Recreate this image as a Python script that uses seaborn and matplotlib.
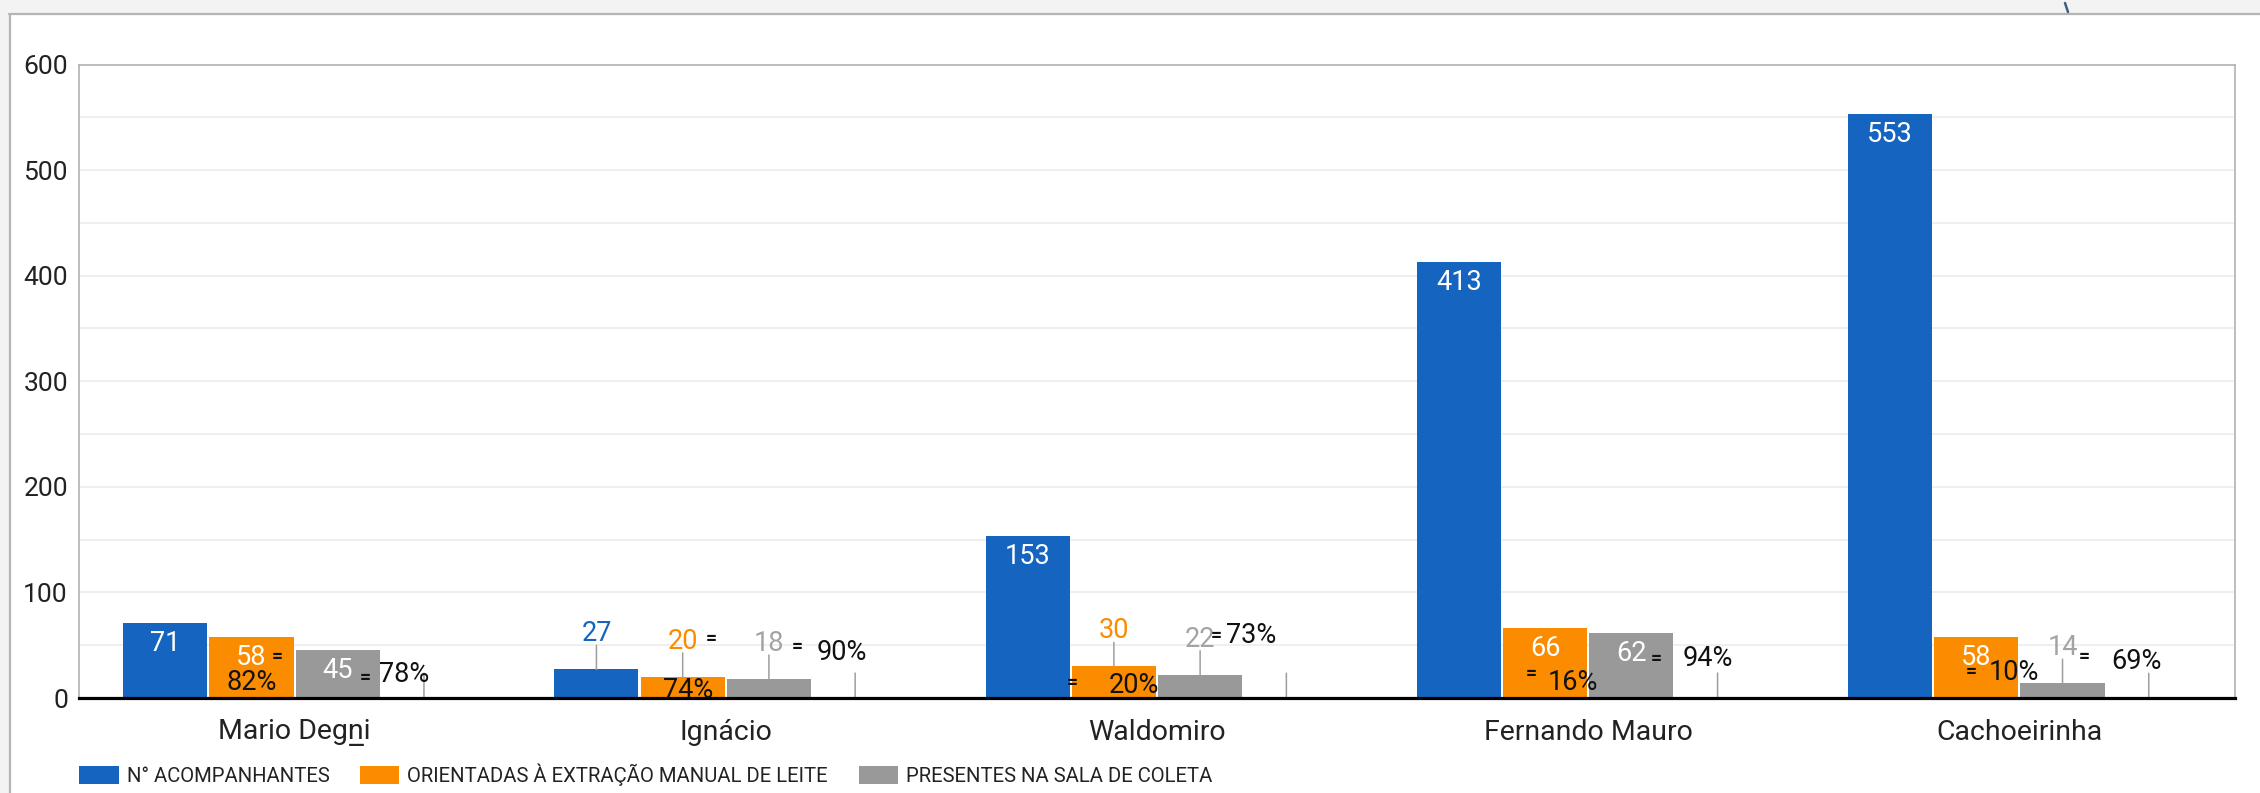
import matplotlib
matplotlib.use("Agg")
import matplotlib.pyplot as plt
import seaborn as sns
import pandas as pd
import numpy as np
from matplotlib.patches import Rectangle, Patch
from matplotlib.lines import Line2D

# ---------------- data ----------------
categories = ["Mario Degn\u0332i", "Ignácio", "Waldomiro", "Fernando Mauro", "Cachoeirinha"]
series_names = ["N° ACOMPANHANTES", "ORIENTADAS À EXTRAÇÃO MANUAL DE LEITE",
                "PRESENTES NA SALA DE COLETA", "PERCENTUAL"]
acompanhantes = [71, 27, 153, 413, 553]
orientadas = [58, 20, 30, 66, 58]
presentes = [45, 18, 22, 62, 14]
percentual = [0.78, 0.90, 0.73, 0.94, 0.69]          # hidden 4th series
pct_orientadas = ["82%", "74%", "20%", "16%", "10%"]
pct_presentes = ["78%", "90%", "73%", "94%", "69%"]
yticks = [0, 100, 200, 300, 400, 500, 600]

# ---------------- layout / style ----------------
W, H, DPI = 2260, 793, 100
colors = ["#1565c0", "#fb8c00", "#999999", "#ffffff"]
label_colors = ["#1565c0", "#fb8c00", "#a3a3a3"]
# overlay text offsets in pixels relative to (bar centre, baseline)
eq_or_off = [(26, 42), (29, 60), (-42, 16), (-14, 25), (-5, 27)]
pct_or_off = [(0, 18), (5, 10), (20, 15), (28, 18), (38, 28)]
eq_gr_off = [(28, 21), (28, 52), (16, 63), (25, 40), (22, 42)]
pct_gr_off = [(66, 26), (73, 48), (51, 65), (76, 42), (74, 39)]

sns.set_theme(style="white")
plt.rcParams["font.family"] = ["Roboto", "DejaVu Sans"]

df = pd.DataFrame({
    "categoria": categories * 4,
    "serie": sum([[s] * len(categories) for s in series_names], []),
    "valor": acompanhantes + orientadas + presentes + percentual,
})

fig = plt.figure(figsize=(W / DPI, H / DPI), dpi=DPI)
fig.patch.set_facecolor("white")
L, R, T, B = 79, 2235, 64.5, 698
ax = fig.add_axes([L / W, 1 - B / H, (R - L) / W, (B - T) / H])

sns.barplot(data=df, x="categoria", y="valor", hue="serie", order=categories,
            hue_order=series_names, palette=colors, saturation=1, width=0.8,
            gap=0.025, linewidth=0, ax=ax)
if ax.get_legend() is not None:
    ax.get_legend().remove()
for p in ax.containers[3]:
    p.set_alpha(0)

ax.set_ylim(0, 600)
ax.set_xlim(-0.5, len(categories) - 0.5)
ax.set_yticks(yticks)
ax.set_yticklabels([str(t) for t in yticks])
ax.set_yticks(np.arange(50, 600, 100), minor=True)
ax.yaxis.grid(True, which="both", color="#ebebeb", lw=1.1)
ax.xaxis.grid(False)
ax.set_axisbelow(True)
ax.set_xlabel("")
ax.set_ylabel("")
ax.tick_params(axis="y", which="both", length=0, pad=8, labelsize=19, labelcolor="#222222")
ax.tick_params(axis="x", length=0, pad=15, labelsize=20.5, labelcolor="#222222")
for s in ["left", "top", "right"]:
    ax.spines[s].set_color("#b7b7b7")
    ax.spines[s].set_linewidth(1.3)
ax.spines["bottom"].set_color("black")
ax.spines["bottom"].set_linewidth(2.3)
ax.spines["bottom"].set_zorder(5)

stem_kw = dict(arrowstyle="-", color="#9e9e9e", lw=1.1, shrinkA=0, shrinkB=0)

# value labels
for i, vals in enumerate([acompanhantes, orientadas, presentes]):
    for bar, v in zip(ax.containers[i], vals):
        x = bar.get_x() + bar.get_width() / 2
        h = bar.get_height()
        if h >= 40:
            ax.annotate(str(v), (x, h), xytext=(0, -28), textcoords="offset pixels",
                        ha="center", va="baseline", color="white", fontsize=19.5)
        else:
            ax.annotate("", (x, h), xytext=(0, 24), textcoords="offset pixels",
                        arrowprops=stem_kw)
            ax.annotate(str(v), (x, h), xytext=(0, 28), textcoords="offset pixels",
                        ha="center", va="baseline", color=label_colors[i], fontsize=19.5)

# hidden series: only the stems remain visible
for bar in ax.containers[3]:
    x = bar.get_x() + bar.get_width() / 2
    ax.annotate("", (x, bar.get_height()), xytext=(0, 24), textcoords="offset pixels",
                arrowprops=stem_kw)

# overlaid text boxes ("=" and percentages)
def overlay(container, texts, eq_off, pct_off):
    for bar, t, (ex, ey), (px, py) in zip(container, texts, eq_off, pct_off):
        x = bar.get_x() + bar.get_width() / 2
        ax.annotate("=", (x, 0), xytext=(ex, ey - 6), textcoords="offset pixels",
                    ha="center", va="baseline", color="#111111", fontsize=14,
                    fontweight="bold", zorder=6)
        ax.annotate(t, (x, 0), xytext=(px, py - 10), textcoords="offset pixels",
                    ha="center", va="baseline", color="#111111", fontsize=19.5, zorder=6)

overlay(ax.containers[1], pct_orientadas, eq_or_off, pct_or_off)
overlay(ax.containers[2], pct_presentes, eq_gr_off, pct_gr_off)

# legend
handles = [Patch(facecolor=c, edgecolor="none") for c in colors[:3]]
fig.legend(handles, series_names[:3], loc="center left",
           bbox_to_anchor=(79 / W, 1 - 775 / H), ncol=3, frameon=False, fontsize=14.6,
           handlelength=1.95, handleheight=1.0, handletextpad=0.4, columnspacing=1.5,
           borderpad=0, borderaxespad=0, labelcolor="#222222")

# window chrome around the chart
fig.add_artist(Rectangle((0, 1 - 13 / H), 1, 13 / H, transform=fig.transFigure,
                         facecolor="#f3f3f3", edgecolor="none", zorder=0))
fig.add_artist(Rectangle((0, 0), 9 / W, 1, transform=fig.transFigure,
                         facecolor="#f3f3f3", edgecolor="none", zorder=0))
fig.add_artist(Line2D([9 / W, 1], [1 - 14 / H] * 2, transform=fig.transFigure,
                      color="#b5b5b5", lw=1.6))
fig.add_artist(Line2D([9.8 / W] * 2, [0, 1 - 14 / H], transform=fig.transFigure,
                      color="#b5b5b5", lw=1.6))
fig.add_artist(Line2D([2065 / W, 2068 / W], [1 - 3 / H, 1 - 12 / H],
                      transform=fig.transFigure, color="#3c5f82", lw=1.8))

fig.savefig("out.png", dpi=DPI, facecolor="white")
